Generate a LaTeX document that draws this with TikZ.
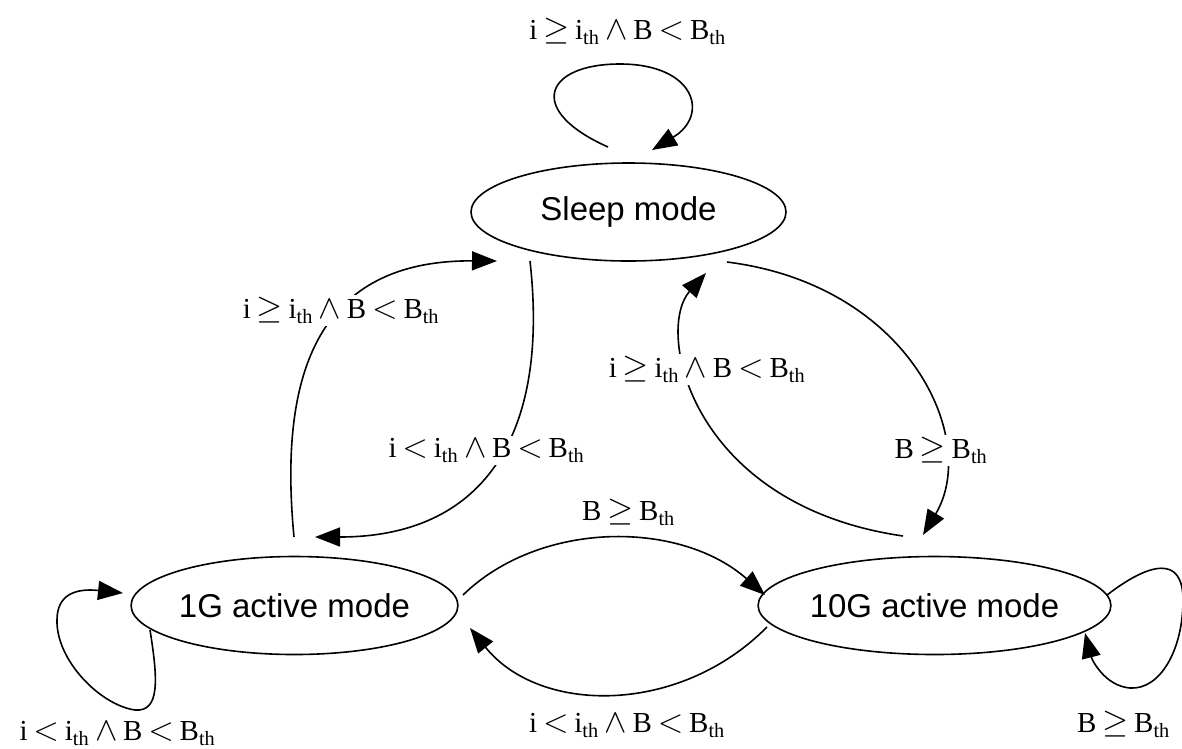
\documentclass[tikz,border=0pt]{standalone}
\usepackage{graphicx}
\usepackage{fontspec}
\setmainfont{Liberation Serif}
\newfontfamily\nodefont{Liberation Sans}
\usetikzlibrary{shapes.geometric,arrows.meta,calc}
\newcommand{\gsub}{\textsubscript{th}}
\newcommand{\gsp}{\hspace{0.2em}}
\newcommand{\gsym}[1]{\gsp\scalebox{1.35}{$#1$}\gsp}
\newcommand{\geqs}{\gsym{\geq}}
\newcommand{\lts}{\gsym{<}}
\newcommand{\ands}{\gsym{\wedge}}
\begin{document}
\begin{tikzpicture}[x=1pt,y=-1pt,
  state/.style={draw,ellipse,line width=1.6pt,minimum width=315pt,minimum height=98pt,inner sep=0pt,
    font=\nodefont\fontsize{33}{38}\selectfont},
  edge/.style={line width=1.6pt,-{Triangle[length=25pt,width=19pt]}},
  lbl/.style={anchor=base,inner sep=2pt,fill=white,font=\fontsize{29}{34}\selectfont}]
\useasboundingbox (0,0) rectangle (1182,748);

\node[state] (sleep) at (628.5,212) {Sleep mode};
\node[state] (g1) at (294.5,605.5) {1G active mode};
\node[state] (g10) at (934.5,605.5) {10G active mode};

% self loops
\draw[edge] ($(sleep)+(-20.5,-65)$) .. controls (525,110) and (545,64) .. (620,64)
  .. controls (695,64) and (710,115) .. ($(sleep)+(23.5,-62)$);
\draw[edge] ($(g1)+(-144.5,24.5)$) .. controls (158,680) and (160,712) .. (135,710)
  .. controls (100,705) and (56,660) .. (57,620)
  .. controls (57,595) and (75,588) .. ($(g1)+(-171.5,-12.5)$);
\draw[edge] ($(g10)+(172.5,-10.5)$) .. controls (1150,562) and (1183,555) .. (1183,600)
  .. controls (1183,650) and (1160,690) .. (1130,688)
  .. controls (1105,686) and (1092,660) .. ($(g10)+(150.5,27.5)$);

% between states
\draw[edge] ($(g1)+(-0.5,-68.5)$) .. controls (278,370) and (320,260) .. ($(sleep)+(-131.5,49)$);
\draw[edge] ($(sleep)+(-98.5,49)$) .. controls (550,440) and (480,537) .. ($(g1)+(20.5,-68.5)$);
\draw[edge] ($(sleep)+(98.5,50)$) .. controls (910,285) and (980,440) .. ($(g10)+(-11.5,-70.5)$);
\draw[edge] ($(g10)+(-31.5,-69.5)$) .. controls (690,505) and (655,330) .. ($(sleep)+(77.5,61)$);
\draw[edge] ($(g1)+(168.5,-10.5)$) .. controls (540,520) and (680,520) .. ($(g10)+(-169.5,-10.5)$);
\draw[edge] ($(g10)+(-167.5,21.5)$) .. controls (680,715) and (540,715) .. ($(g1)+(175.5,22.5)$);

% labels
\node[lbl] (l1) at (627.5,39) {i\geqs i\gsub\ands B\lts B\gsub};
\node[lbl] (l2) at (341,318) {i\geqs i\gsub\ands B\lts B\gsub};
\node[lbl] (l3) at (486.5,457) {i\lts i\gsub\ands B\lts B\gsub};
\node[lbl] (l4) at (707,377) {i\geqs i\gsub\ands B\lts B\gsub};
\node[lbl] (l5) at (941,458) {B\geqs B\gsub};
\node[lbl] (l6) at (628.5,520) {B\geqs B\gsub};
\node[lbl] (l7) at (627,732) {i\lts i\gsub\ands B\lts B\gsub};
\node[lbl,inner sep=0pt] (l8) at (117.5,740) {i\lts i\gsub\ands B\lts B\gsub};
\node[lbl] (l9) at (1123.5,732) {B\geqs B\gsub};
\end{tikzpicture}
\end{document}
